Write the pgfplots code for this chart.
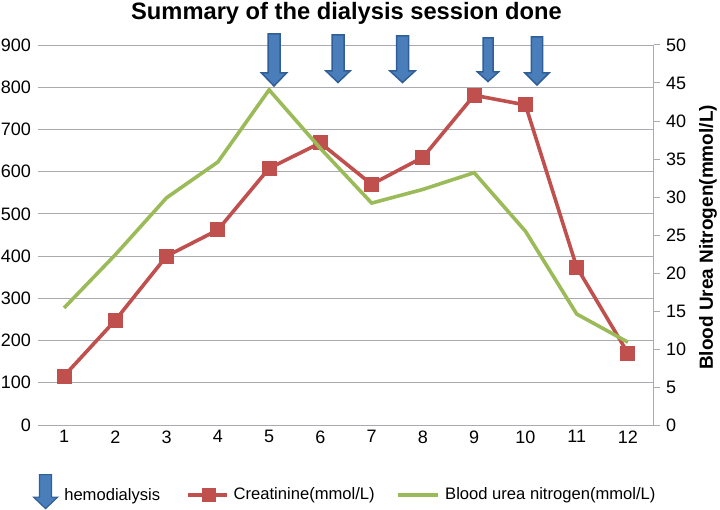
\documentclass[border=0pt]{standalone}
\usepackage{pgfplots}
\pgfplotsset{compat=1.18}
\usepackage{fontspec}
\setmainfont{Liberation Sans}
\definecolor{gridc}{HTML}{A9ABB0}
\definecolor{creat}{HTML}{C0504D}
\definecolor{bun}{HTML}{9BBB59}
\definecolor{arrf}{HTML}{4A7EBB}
\definecolor{arrd}{HTML}{2F5F96}
\pgfplotstableread{
x creat bun
1 116 15.4
2 248 22.4
3 400 29.9
4 462 34.6
5 608 44.1
6 668 36.4
7 570 29.2
8 634 31.0
9 781 33.2
10 758 25.5
11 374 14.6
12 170 10.9
}\data
\newcommand{\arrowshape}[6]{% cx, halfshaft, top, headstart, halfhead, tip (px from top)
  \filldraw[fill=arrf,draw=arrd,line width=1.5pt,line join=miter]
    ({#1-#2},{509-#3}) -- ({#1+#2},{509-#3}) -- ({#1+#2},{509-#4}) -- ({#1+#5},{509-#4})
    -- (#1,{509-#6}) -- ({#1-#5},{509-#4}) -- ({#1-#2},{509-#4}) -- cycle;
}
\begin{document}
\begin{tikzpicture}[x=1pt,y=1pt]
\path[use as bounding box] (0,0) rectangle (720,509);
\begin{axis}[
  at={(38.4pt,84pt)},anchor=south west,scale only axis,width=615.2pt,height=380pt,
  xmin=0.5,xmax=12.5,ymin=0,ymax=900,
  xtick={1,...,12},ytick={0,100,...,900},
  ymajorgrids,grid style={gridc,line width=1pt},
  axis y line*=left,axis x line*=bottom,
  y axis line style={draw=none},
  x axis line style={gridc,line width=1pt,-},
  tick style={draw=none},
  major tick length=0pt,
  x tick label style={font=\fontsize{18}{18}\selectfont,yshift=-2pt},
  y tick label style={font=\fontsize{18}{18}\selectfont,xshift=-4pt},
  /pgf/number format/assume math mode=true,
  clip=false,
]
\addplot[creat,line width=3.6pt,mark=square*,mark size=7pt,mark options={solid,fill=creat,draw=creat,line width=0pt}] table[x=x,y=creat]{\data};
\end{axis}
\begin{axis}[
  at={(38.4pt,84pt)},anchor=south west,scale only axis,width=615.2pt,height=380pt,
  xmin=0.5,xmax=12.5,ymin=0,ymax=50,
  axis y line*=right,axis x line=none,
  ytick={0,5,...,50},
  y axis line style={gridc,line width=1pt,-},
  tick style={gridc,line width=1pt},
  major tick length=6pt,
  tick align=outside,
  y tick label style={font=\fontsize{18}{18}\selectfont,xshift=3pt},
  /pgf/number format/assume math mode=true,
  legend style={at={(-0.0088,-0.129)},anchor=north west,draw=none,fill=none,legend columns=3,
    inner sep=0pt,outer sep=0pt,
    font=\fontsize{16.6}{17}\selectfont,
    /tikz/every even column/.append style={column sep=0pt}},
  legend cell align=left,
  clip=false,
]
\addplot[bun,line width=3.6pt,forget plot] table[x=x,y=bun]{\data};
\addlegendimage{legend image code/.code={
  \filldraw[fill=arrf,draw=arrd,line width=1.2pt] (-6pt,20pt) -- (6pt,20pt) -- (6pt,-2.5pt) -- (12pt,-2.5pt) -- (0pt,-14pt) -- (-12pt,-2.5pt) -- (-6pt,-2.5pt) -- cycle;
  \path (-12pt,0pt) (16.5pt,0pt);
}}
\addlegendentry{\raisebox{-1.5pt}{hemodialysis}}
\addlegendimage{legend image code/.code={
    \draw[creat,line width=3.8pt] (0pt,0pt) -- (39pt,0pt);
    \fill[creat] (13.7pt,-6.2pt) rectangle (26.3pt,6.2pt);
    \path (-26pt,0pt) (43pt,0pt);
  }}
\addlegendentry{Creatinine(mmol/L)}
\addlegendimage{legend image code/.code={
    \draw[bun,line width=3.8pt] (0pt,0pt) -- (40pt,0pt);
    \path (-21pt,0pt) (45pt,0pt);
  }}
\addlegendentry{Blood urea nitrogen(mmol/L)}
\end{axis}
\node[rotate=90,font=\fontsize{19}{19}\selectfont\bfseries] at (708,271.5) {Blood Urea Nitrogen(mmol/L)};
\node[font=\fontsize{23.7}{24}\selectfont\bfseries,anchor=base] at (346.5,489.7) {Summary of the dialysis session done};
\arrowshape{274}{6}{34}{73}{12.5}{86}
\arrowshape{338}{6}{35}{71}{12}{82.5}
\arrowshape{402.5}{6}{36}{71}{12.5}{82.5}
\arrowshape{488}{5}{38}{72}{10.5}{81.5}
\arrowshape{537}{5.7}{37}{73}{12}{85}
\end{tikzpicture}
\end{document}
